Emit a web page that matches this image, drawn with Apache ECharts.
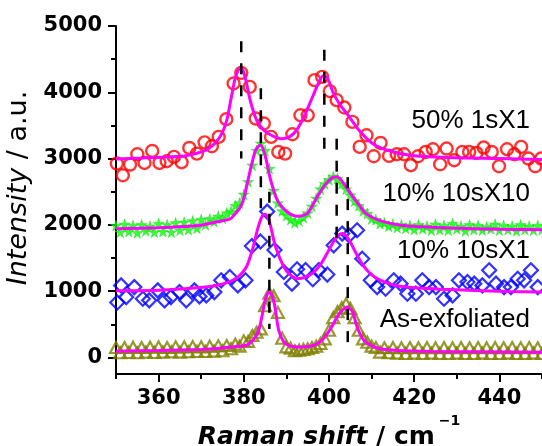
<!DOCTYPE html>
<html>
<head>
<meta charset="utf-8">
<script src="https://cdn.jsdelivr.net/npm/echarts@6/dist/echarts.min.js"></script>
<style>
  html, body { margin: 0; padding: 0; background: #fff; }
  #chart { width: 542px; height: 446px; }
</style>
</head>
<body>
<div id="chart"></div>
<script>
// tick values
const xMajorTicks = [360, 380, 400, 420, 440];
const xMinorTicks = [350, 370, 390, 410, 430, 450];
const yMajorTicks = [0, 1000, 2000, 3000, 4000, 5000];
const yMinorTicks = [500, 1500, 2500, 3500, 4500];

// 50% 1sX1 (red circles)
const redX = [350.2, 351.6, 353.3, 355.0, 356.7, 358.5, 360.2, 361.9, 363.6, 365.4, 367.2, 369.0, 370.8, 372.5, 374.1, 375.9, 377.6, 379.4, 381.4, 382.8, 384.7, 386.4, 388.1, 389.7, 391.4, 393.3, 395.0, 396.6, 398.4, 400.2, 401.8, 403.6, 405.5, 407.2, 408.8, 410.5, 412.1, 414.1, 415.9, 417.6, 419.2, 420.9, 422.7, 424.4, 426.1, 427.6, 429.4, 431.3, 432.9, 434.6, 436.3, 438.2, 439.9, 441.8, 443.5, 445.1, 446.8, 448.4, 449.8];
const redY = [2925, 2748, 2910, 3065, 2934, 3115, 2934, 2960, 3025, 2945, 3160, 3075, 3245, 3186, 3327, 3594, 4133, 4293, 4082, 3604, 3529, 3327, 3100, 3075, 3367, 3654, 3654, 4183, 4233, 4017, 3881, 3770, 3553, 3176, 3352, 3035, 3236, 3040, 3065, 3065, 2900, 3035, 3100, 3141, 2914, 3151, 2975, 3100, 3100, 3085, 3166, 3100, 2884, 3141, 3065, 3176, 3000, 2884, 3000];
const redFitX = [350, 356, 362, 366, 369, 371.5, 373.5, 375, 376, 377, 378, 378.8, 379.3, 379.8, 380.5, 381.5, 383, 384.7, 386.8, 388.7, 390.5, 392.3, 394.2, 396.2, 397.6, 398.6, 399.6, 401, 402.5, 404.3, 407, 410.2, 413.7, 419, 428, 440, 450];
const redFitY = [2995, 3008, 3022, 3040, 3080, 3140, 3250, 3400, 3580, 3900, 4220, 4345, 4370, 4330, 4180, 3880, 3580, 3430, 3340, 3300, 3320, 3420, 3640, 3940, 4150, 4250, 4220, 3990, 3820, 3670, 3430, 3227, 3126, 3050, 3015, 3000, 2985];

// 10% 10sX10 (green stars)
const greenX = [350, 351, 352, 353, 354, 355, 356, 357, 358, 359, 360, 361, 362, 363, 364, 365, 366, 367, 368, 369, 370, 371, 372, 373, 374, 375, 376, 377, 378, 379, 380, 381, 382, 383, 384, 385, 386, 387, 388, 389, 390, 391, 392, 393, 394, 395, 396, 397, 398, 399, 400, 401, 402, 403, 404, 405, 406, 407, 408, 409, 410, 411, 412, 413, 414, 415, 416, 417, 418, 419, 420, 421, 422, 423, 424, 425, 426, 427, 428, 429, 430, 431, 432, 433, 434, 435, 436, 437, 438, 439, 440, 441, 442, 443, 444, 445, 446, 447, 448, 449, 450];
const greenY = [1990, 1890, 2010, 1900, 1990, 1880, 2000, 1910, 1980, 1890, 2020, 1900, 2000, 1890, 2030, 1920, 2040, 1930, 2060, 1950, 2080, 2000, 2090, 2050, 2130, 2100, 2180, 2200, 2290, 2330, 2460, 2650, 2900, 3120, 3230, 3120, 2850, 2520, 2330, 2210, 2140, 2080, 2030, 2060, 2110, 2180, 2280, 2400, 2540, 2620, 2680, 2730, 2700, 2620, 2540, 2450, 2360, 2290, 2210, 2170, 2090, 2080, 2020, 2030, 1980, 2010, 1960, 2000, 1950, 1990, 1930, 2000, 1940, 1980, 1920, 2010, 1930, 1990, 1920, 2020, 1940, 1980, 1910, 2000, 1930, 1990, 1920, 1970, 1940, 2010, 1920, 1990, 1930, 1980, 1910, 2000, 1930, 1980, 1920, 1990, 1930];
const greenFitX = [350, 360, 366, 370, 373.5, 376.8, 378, 379.2, 380, 380.8, 381.8, 382.8, 383.9, 385, 386.2, 387.8, 390.2, 392.5, 394.9, 397.2, 399, 400.5, 401.5, 402.5, 403.5, 405.1, 407.4, 408.5, 411.3, 416.8, 422, 428.6, 440, 450];
const greenFitY = [1943, 1958, 1975, 1993, 2044, 2090, 2170, 2270, 2400, 2620, 2900, 3130, 3210, 3050, 2700, 2380, 2194, 2129, 2170, 2420, 2600, 2700, 2725, 2700, 2620, 2471, 2270, 2180, 2078, 1993, 1970, 1952, 1935, 1928];

// 10% 10sX1 (blue diamonds)
const blueX = [350.3, 351.2, 352.4, 354.3, 356.3, 357.8, 359.8, 361.4, 362.9, 364.9, 366.5, 368.4, 369.6, 371.2, 373.1, 374.7, 376.7, 378.6, 380.4, 381.9, 383.9, 385.5, 387.2, 389.4, 391.3, 392.5, 394.5, 396.2, 397.6, 399.6, 401.1, 403.1, 404.7, 406.6, 407.8, 409.8, 411.3, 413.3, 415.2, 416.8, 418.4, 420.4, 421.9, 423.5, 425.1, 427.0, 429.0, 430.5, 432.5, 434.1, 436.0, 437.6, 439.2, 441.1, 442.7, 444.3, 445.8, 447.4, 449.0];
const blueY = [830, 1087, 910, 1061, 886, 861, 1012, 861, 910, 986, 861, 1012, 921, 936, 986, 1163, 1213, 1087, 1163, 1680, 1750, 2200, 1620, 1288, 1113, 1330, 1320, 1180, 1320, 1250, 1691, 1868, 1842, 1918, 1490, 1163, 1061, 1037, 1163, 1113, 962, 962, 1163, 1061, 1061, 886, 936, 1163, 1137, 1113, 1087, 1314, 1113, 1061, 1061, 1188, 1163, 1314, 1061];
const blueFitX = [350, 360, 366, 373.5, 378.2, 380.6, 382.2, 383.3, 384.3, 385.0, 386.0, 387.4, 389.4, 391, 392.5, 394.5, 396.5, 398.2, 399.8, 401.2, 402.3, 403.1, 404, 405, 406.2, 407.7, 409.3, 411, 413, 416, 420, 426, 434, 442, 450];
const blueFitY = [1005, 1015, 1035, 1085, 1190, 1364, 1666, 1950, 2130, 2160, 2050, 1680, 1364, 1240, 1188, 1210, 1290, 1420, 1600, 1760, 1850, 1870, 1840, 1740, 1590, 1420, 1290, 1200, 1140, 1080, 1050, 1030, 1010, 995, 986];

// As-exfoliated (olive triangles)
const oliveX = [350, 351, 352, 353, 354, 355, 356, 357, 358, 359, 360, 361, 362, 363, 364, 365, 366, 367, 368, 369, 370, 371, 372, 373, 374, 375, 376, 377, 378, 379, 380, 381, 382, 383, 384, 385, 386, 387, 388, 389, 390, 391, 392, 393, 394, 395, 396, 397, 398, 399, 400, 401, 402, 403, 404, 405, 406, 407, 408, 409, 410, 411, 412, 413, 414, 415, 416, 417, 418, 419, 420, 421, 422, 423, 424, 425, 426, 427, 428, 429, 430, 431, 432, 433, 434, 435, 436, 437, 438, 439, 440, 441, 442, 443, 444, 445, 446, 447, 448, 449, 450];
const oliveY = [150, 70, 150, 75, 155, 70, 150, 80, 155, 75, 160, 80, 150, 85, 160, 80, 160, 85, 165, 90, 160, 90, 170, 95, 175, 100, 180, 130, 200, 170, 250, 240, 330, 380, 430, 780, 970, 930, 680, 290, 160, 140, 100, 110, 120, 130, 150, 170, 210, 280, 410, 600, 690, 750, 810, 740, 600, 410, 280, 230, 170, 150, 80, 145, 70, 150, 65, 145, 60, 150, 65, 145, 60, 150, 65, 145, 60, 150, 60, 145, 65, 150, 60, 145, 60, 150, 65, 145, 60, 150, 60, 145, 65, 150, 60, 145, 60, 150, 65, 145, 60];
const oliveFitX = [350, 360, 370, 374, 377, 379, 380.8, 382.3, 383.5, 384.2, 384.8, 385.4, 385.9, 386.5, 387.2, 388.2, 389.4, 390.8, 392.5, 394.5, 396.4, 398.2, 399.6, 400.8, 401.9, 402.8, 403.6, 404.3, 405, 405.6, 406.6, 407.4, 408.2, 409.8, 412, 416, 424, 435, 450];
const oliveFitY = [95, 105, 120, 135, 156, 168, 190, 270, 408, 600, 800, 940, 986, 950, 800, 408, 231, 175, 156, 160, 181, 250, 358, 480, 609, 690, 740, 760, 730, 680, 458, 340, 257, 181, 130, 105, 90, 85, 80];

// vertical dashed peak markers
const dashX = [379.4, 384.0, 386.0, 398.9, 401.8, 404.4];
const dashTop = [4770, 4060, 2500, 4640, 3300, 2720];
const dashBottom = [3000, 2250, 430, 3075, 1800, 150];

const sampleNames = ['50% 1sX1', '10% 10sX10', '10% 10sX1', 'As-exfoliated'];

const pairs = (xs, ys) => xs.map((x, i) => [x, ys[i]]);
const starPath = 'path://M50,0 L61,35 L98,35 L68,57 L79,91 L50,70 L21,91 L32,57 L2,35 L39,35 Z';
const tickFont = { color: '#000', fontFamily: 'DejaVu Sans', fontWeight: 'bold', fontSize: 21 };

const fitLine = (xs, ys) => ({
  type: 'line',
  data: pairs(xs, ys),
  showSymbol: false,
  smooth: 0.25,
  lineStyle: { color: '#ff00ff', width: 3 },
  z: 3,
  silent: true,
});

const chart = echarts.init(document.getElementById('chart'));

const option = {
  animation: false,
  backgroundColor: '#fff',
  grid: { left: 116, right: 0, top: 26, bottom: 72, outerBoundsMode: 'none', containLabel: false },
  xAxis: [
    {
      type: 'value',
      min: 350,
      max: 450,
      axisLine: { onZero: false, lineStyle: { color: '#000', width: 2 } },
      axisTick: { customValues: xMajorTicks, length: 8, lineStyle: { color: '#000', width: 2 } },
      axisLabel: { customValues: xMajorTicks, margin: 14, formatter: (v) => String(v), ...tickFont },
      splitLine: { show: false },
      name: '{i|Raman shift}{n| / cm}{s|\u22121}',
      nameLocation: 'middle',
      nameGap: 34,
      nameTextStyle: {
        rich: {
          i: { fontFamily: 'DejaVu Sans', fontWeight: 'bold', fontStyle: 'italic', fontSize: 25, lineHeight: 25, verticalAlign: 'bottom', color: '#000' },
          n: { fontFamily: 'DejaVu Sans', fontWeight: 'bold', fontSize: 25, lineHeight: 25, verticalAlign: 'bottom', color: '#000' },
          s: { fontFamily: 'DejaVu Sans', fontWeight: 'bold', fontSize: 14, lineHeight: 14, padding: [0, 0, 22, 4], verticalAlign: 'bottom', color: '#000' },
        },
      },
    },
    {
      type: 'value',
      min: 350,
      max: 450,
      position: 'bottom',
      axisLine: { show: false, onZero: false },
      axisTick: { customValues: xMinorTicks, length: 5, lineStyle: { color: '#000', width: 2 } },
      axisLabel: { show: false },
      splitLine: { show: false },
    },
  ],
  yAxis: [
    {
      type: 'value',
      min: -250,
      max: 5000,
      axisLine: { show: true, onZero: false, lineStyle: { color: '#000', width: 2 } },
      axisTick: { show: true, customValues: yMajorTicks, length: 8, lineStyle: { color: '#000', width: 2 } },
      axisLabel: { customValues: yMajorTicks, margin: 14, formatter: (v) => String(v), ...tickFont },
      splitLine: { show: false },
      name: '{i|Intensity} / a.u.',
      nameLocation: 'middle',
      nameGap: 74,
      nameTextStyle: {
        fontFamily: 'DejaVu Sans',
        fontSize: 27,
        color: '#000',
        padding: [0, 0, 0, 24],
        rich: {
          i: { fontFamily: 'DejaVu Sans', fontStyle: 'italic', fontSize: 27, color: '#000' },
        },
      },
    },
    {
      type: 'value',
      min: -250,
      max: 5000,
      position: 'left',
      axisLine: { show: false, onZero: false },
      axisTick: { show: true, customValues: yMinorTicks, length: 5, lineStyle: { color: '#000', width: 2 } },
      axisLabel: { show: false },
      splitLine: { show: false },
    },
  ],
  graphic: [
    { type: 'text', x: 530, y: 121, style: { text: sampleNames[0], font: '26px "Liberation Sans"', fill: '#000', textAlign: 'right', textVerticalAlign: 'middle' } },
    { type: 'text', x: 530, y: 194, style: { text: sampleNames[1], font: '26px "Liberation Sans"', fill: '#000', textAlign: 'right', textVerticalAlign: 'middle' } },
    { type: 'text', x: 530, y: 251, style: { text: sampleNames[2], font: '26px "Liberation Sans"', fill: '#000', textAlign: 'right', textVerticalAlign: 'middle' } },
    { type: 'text', x: 530, y: 320, style: { text: sampleNames[3], font: '26px "Liberation Sans"', fill: '#000', textAlign: 'right', textVerticalAlign: 'middle' } },
  ],
  series: [
    {
      type: 'scatter',
      data: pairs(oliveX, oliveY),
      symbol: 'triangle',
      symbolSize: [12, 11],
      itemStyle: { color: 'rgba(0,0,0,0)', borderColor: '#808000', borderWidth: 2.2 },
      z: 2,
    },
    {
      type: 'scatter',
      data: pairs(blueX, blueY),
      symbol: 'diamond',
      symbolSize: 14,
      itemStyle: { color: 'rgba(0,0,0,0)', borderColor: '#0000ff', borderWidth: 2.2 },
      z: 2,
    },
    {
      type: 'scatter',
      data: pairs(greenX, greenY),
      symbol: starPath,
      symbolSize: 11,
      itemStyle: { color: '#00ff00', borderColor: '#22cc22', borderWidth: 0.5 },
      z: 2,
    },
    {
      type: 'scatter',
      data: pairs(redX, redY),
      symbol: 'circle',
      symbolSize: 12,
      itemStyle: { color: 'rgba(0,0,0,0)', borderColor: '#ff0000', borderWidth: 2.4 },
      z: 2,
    },
    fitLine(oliveFitX, oliveFitY),
    fitLine(blueFitX, blueFitY),
    fitLine(greenFitX, greenFitY),
    fitLine(redFitX, redFitY),
    ...dashX.map((x, i) => ({
      type: 'line',
      data: [[x, dashTop[i]], [x, dashBottom[i]]],
      showSymbol: false,
      lineStyle: { color: '#000', width: 2.5, type: [11, 11] },
      z: 4,
      silent: true,
    })),
  ],
};

chart.setOption(option);
</script>
</body>
</html>
